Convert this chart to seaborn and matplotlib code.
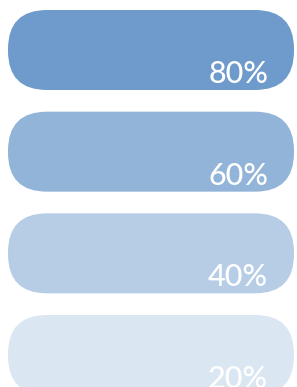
import matplotlib
matplotlib.use("Agg")
import matplotlib.pyplot as plt
import seaborn as sns
import pandas as pd
from matplotlib.patches import FancyBboxPatch

# Data
categories = ["A", "B", "C", "D"]
values = [80, 60, 40, 20]
track = [100, 100, 100, 100]
labels = ["80%", "60%", "40%", "20%"]

BASE = (74 / 255, 130 / 255, 190 / 255)

W, H = 297, 387
fig = plt.figure(figsize=(W / 100, H / 100), dpi=100)
ax = fig.add_axes([8 / W, 0, 286 / W, 1])

df = pd.DataFrame({"cat": categories, "track": track, "value": values})
sns.barplot(data=df, y="cat", x="track", orient="h", width=80 / 101.67,
            color=BASE, ax=ax)

ax.set_xlim(0, 100)
ax.set_ylim((H - 50) / 101.67, -50 / 101.67)
ax.axis("off")

# px -> data units
px_x = 100 / 286
px_y = 1 / 101.67
radius = 39  # quadratic corners, so a bit larger than the visual radius

for bar, v, lab in zip(list(ax.patches), values, labels):
    x0, y0 = bar.get_x(), bar.get_y()
    w, h = bar.get_width(), bar.get_height()
    bar.remove()
    rounded = FancyBboxPatch((x0, y0), w, h,
                             boxstyle=f"round,pad=0,rounding_size={radius * px_x}",
                             mutation_aspect=px_y / px_x,
                             facecolor=BASE, alpha=v / 100, edgecolor="none")
    ax.add_patch(rounded)
    ax.text(x0 + w - 26 * px_x, y0 + h - 7 * px_y, lab, color="white",
            ha="right", va="baseline", fontsize=22, family="Lato",
            fontweight="medium")

fig.savefig("out.png", dpi=100)
